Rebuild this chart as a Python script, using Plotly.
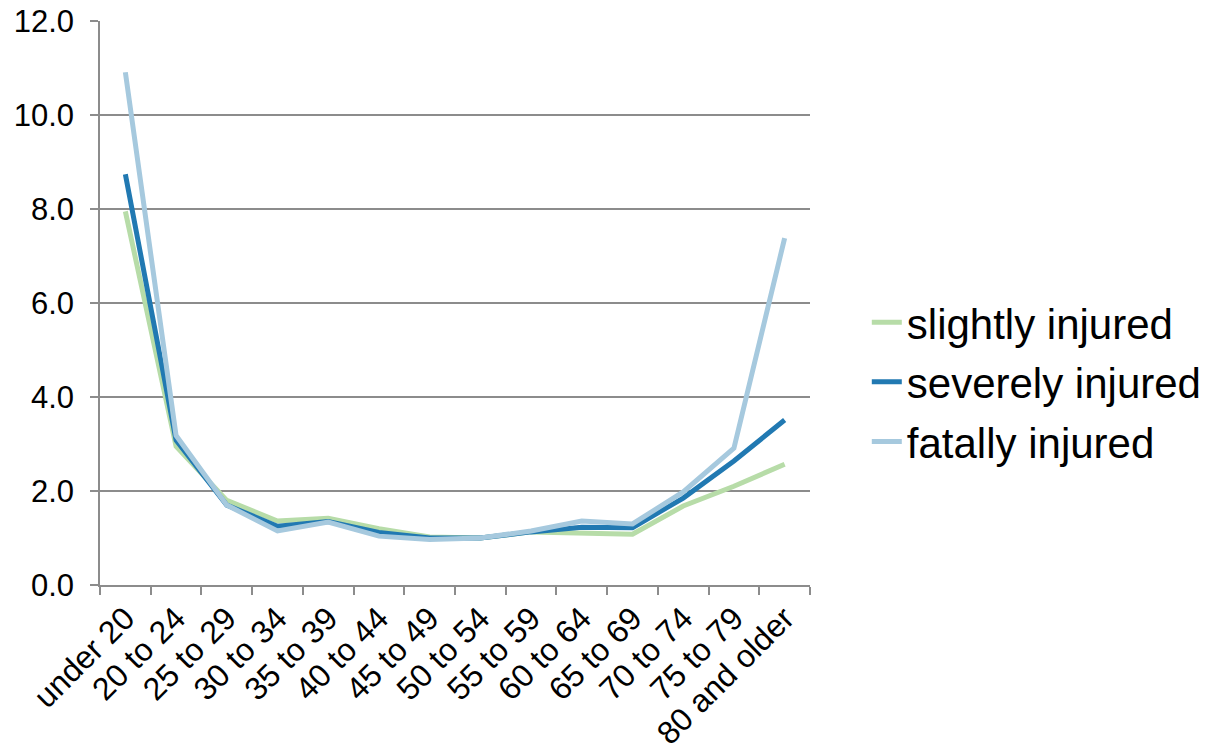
import plotly.graph_objects as go

categories = ["under 20", "20 to 24", "25 to 29", "30 to 34", "35 to 39", "40 to 44",
              "45 to 49", "50 to 54", "55 to 59", "60 to 64", "65 to 69", "70 to 74",
              "75 to 79", "80 and older"]
slightly = [7.95, 2.95, 1.80, 1.36, 1.42, 1.20, 1.02, 1.00, 1.13, 1.10, 1.08, 1.68, 2.10, 2.57]
severely = [8.74, 3.08, 1.70, 1.25, 1.35, 1.12, 1.00, 1.00, 1.13, 1.23, 1.22, 1.85, 2.64, 3.51]
fatally = [10.91, 3.18, 1.70, 1.15, 1.34, 1.04, 0.97, 1.00, 1.15, 1.36, 1.30, 1.98, 2.91, 7.38]

series_names = ["slightly injured", "severely injured", "fatally injured"]
series_colors = ["#b7dca8", "#2179b2", "#a6c9de"]
series_values = [slightly, severely, fatally]
y_ticks = [0, 2, 4, 6, 8, 10, 12]

fig = go.Figure()
for name, color, vals in zip(series_names, series_colors, series_values):
    fig.add_trace(go.Scatter(x=categories, y=vals, name=name, mode="lines",
                             legendgroup=name,
                             line=dict(color=color, width=5)))

font_family = "Liberation Sans, Arial, sans-serif"
fig.update_layout(
    width=1211, height=750,
    margin=dict(l=100, r=401, t=21, b=165, autoexpand=False),
    paper_bgcolor="white", plot_bgcolor="white",
    font=dict(family=font_family, size=28, color="black"),
    showlegend=True,
    legend=dict(x=1.08, xanchor="left", y=0.36, yanchor="middle",
                font=dict(size=42, family=font_family, color="black"),
                bgcolor="rgba(0,0,0,0)", tracegroupgap=2),
    xaxis=dict(type="category", tickson="boundaries", ticks="outside", ticklen=8,
               tickcolor="#8c8c8c", tickwidth=1.5, showline=True, linecolor="#8c8c8c",
               linewidth=1.5, showgrid=False, tickangle=-45, automargin=False,
               tickfont=dict(size=32, family=font_family, color="black"),
               range=[-0.5, len(categories) - 0.5]),
    yaxis=dict(range=[0, 12], tickvals=y_ticks, tickformat=".1f", ticks="outside",
               ticklen=8, tickcolor="#8c8c8c", tickwidth=1.5, showline=True,
               linecolor="#8c8c8c", linewidth=1.5, showgrid=True, gridcolor="#8c8c8c",
               gridwidth=1.5, zeroline=False, automargin=False, ticklabelstandoff=10,
               tickfont=dict(size=31, family=font_family, color="black")),
)

fig.write_html("out.html", config={"displayModeBar": False},
               post_script="document.body.style.margin='0';")
